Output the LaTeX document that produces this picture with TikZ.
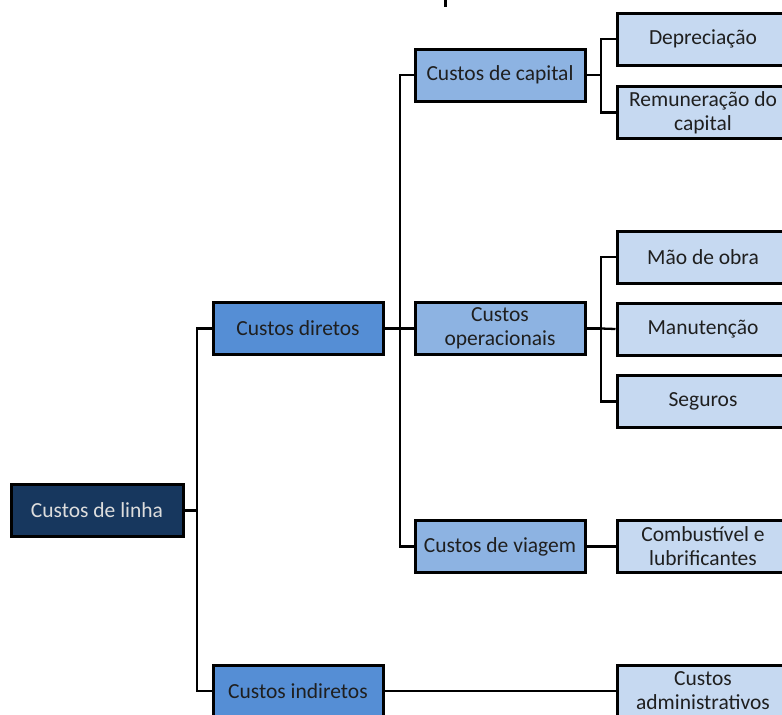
\documentclass[tikz,border=0pt]{standalone}
\usepackage{fontspec}
\setmainfont{Carlito}
\usetikzlibrary{shadows}
\definecolor{navy}{HTML}{17375E}
\definecolor{midblue}{HTML}{558ED5}
\definecolor{lightblue}{HTML}{8DB3E2}
\definecolor{paleblue}{HTML}{C6D9F1}
\definecolor{txt}{HTML}{1F1F1F}
\definecolor{txtlight}{HTML}{DDDDDD}
\begin{document}
\begin{tikzpicture}[x=1pt,y=-1pt,
  box/.style={draw=black, line width=3pt, rectangle, inner sep=2pt,
    minimum width=170pt, minimum height=52pt, align=center, text=txt,
    font=\fontsize{21.5}{24}\selectfont,
    drop shadow={shadow xshift=1.5pt, shadow yshift=-1.5pt, fill=black, opacity=0.25}},
  rootbox/.style={box, fill=navy, text=txtlight, minimum width=172pt},
  lvlone/.style={box, fill=midblue},
  lvltwo/.style={box, fill=lightblue},
  leaf/.style={box, fill=paleblue, minimum width=172pt},
  conn/.style={draw=black, line width=2.3pt}]
\useasboundingbox (0,0) rectangle (782,715);
\clip (0,0) rectangle (782,715);

\fill[black] (444,0) rectangle (446.5,7);

\node[rootbox] (linha) at (97,510.5) {Custos de linha};
\node[lvlone] (diretos) at (298,328.5) {Custos diretos};
\node[lvlone] (indiretos) at (298,691) {Custos indiretos};
\node[lvltwo] (capital) at (500,75) {Custos de capital};
\node[lvltwo] (operac) at (500,328.5) {Custos\\operacionais};
\node[lvltwo] (viagem) at (500,546.5) {Custos de viagem};
\node[leaf] (dep) at (703,39) {Depreciação};
\node[leaf] (rem) at (703,112.5) {Remuneração do\\capital};
\node[leaf] (mao) at (703,257) {Mão de obra};
\node[leaf] (man) at (703,329) {Manutenção};
\node[leaf] (seg) at (703,401.5) {Seguros};
\node[leaf] (comb) at (703,546.5) {Combustível e\\lubrificantes};
\node[leaf] (adm) at (703,691) {Custos\\administrativos};

\coordinate (j1) at (197,510.5);
\coordinate (j2) at (400,328.5);
\coordinate (j3) at (601,75);
\coordinate (j4) at (601,328.5);

\path[conn] (linha.east) -- (j1);
\path[conn] (diretos.west) -- (diretos.west -| j1) -- (indiretos.west -| j1) -- (indiretos.west);
\path[conn] (diretos.east) -- (j2);
\path[conn] (capital.west) -- (capital.west -| j2) -- (viagem.west -| j2) -- (viagem.west);
\path[conn] (j2) -- (operac.west);
\path[conn] (capital.east) -- (j3);
\path[conn] (dep.west) -- (dep.west -| j3) -- (rem.west -| j3) -- (rem.west);
\path[conn] (operac.east) -- (j4);
\path[conn] (mao.west) -- (mao.west -| j4) -- (seg.west -| j4) -- (seg.west);
\path[conn] (j4) -- (man.west);
\path[conn] (viagem.east) -- (comb.west);
\path[conn] (indiretos.east) -- (adm.west);
\end{tikzpicture}
\end{document}
